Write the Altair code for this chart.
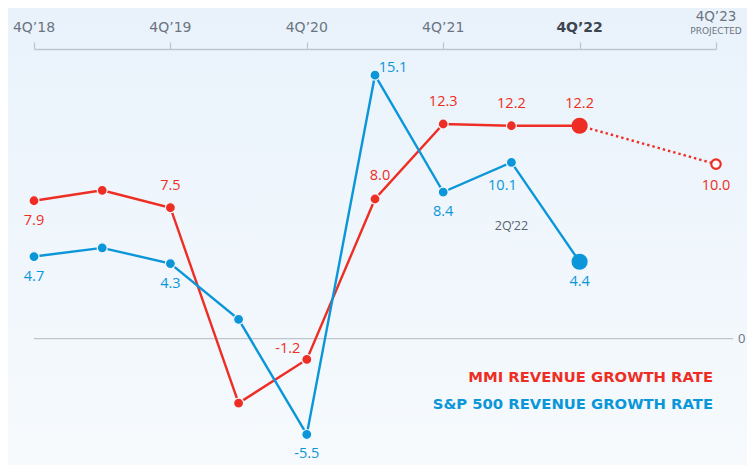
import altair as alt
import pandas as pd

# ---- data ----
periods = ["4Q’18", "2Q’19", "4Q’19", "2Q’20", "4Q’20", "2Q’21",
           "4Q’21", "2Q’22", "4Q’22", "2Q’23", "4Q’23"]
mmi = [7.9, 8.5, 7.5, -3.7, -1.2, 8.0, 12.3, 12.2, 12.2]
mmi_labels = ["7.9", "", "7.5", "", "-1.2", "8.0", "12.3", "12.2", "12.2"]
mmi_place = ["below", "", "above", "", "left", "aboveright", "above", "above", "above"]
mmi_proj = [12.2, 10.0]          # 4Q'22 -> 4Q'23 projected
mmi_proj_label = "10.0"
sp500 = [4.7, 5.2, 4.3, 1.1, -5.5, 15.1, 8.4, 10.1, 4.4]
sp_labels = ["4.7", "", "4.3", "", "-5.5", "15.1", "8.4", "10.1", "4.4"]
sp_place = ["below", "", "below", "", "below", "right", "below", "belowleft", "below"]
axis_ticks = ["4Q’18", "4Q’19", "4Q’20", "4Q’21", "4Q’22"]
projected_tick = "4Q’23"
projected_word = "PROJECTED"
note = "2Q’22"
legend_mmi = "MMI REVENUE GROWTH RATE"
legend_sp = "S&P 500 REVENUE GROWTH RATE"

RED = "#ee2e24"
BLUE = "#0a96d8"
GRAY = "#6b7480"
LINEGRAY = "#bfc5cd"
FONT = "Open Sans"
WIDE = "DejaVu Sans"

W, H = 682, 416
PAD_L, PAD_T, PAD_R, PAD_B = 26, 41, 31, 0

idx = {p: i for i, p in enumerate(periods)}

mmi_df = pd.DataFrame({"t": list(range(len(mmi))), "v": mmi,
                       "lab": mmi_labels, "place": mmi_place})
sp_df = pd.DataFrame({"t": list(range(len(sp500))), "v": sp500,
                      "lab": sp_labels, "place": sp_place})
proj_df = pd.DataFrame({"t": [idx["4Q’22"], idx["4Q’23"]], "v": mmi_proj,
                        "lab": ["", mmi_proj_label]})
tick_df = pd.DataFrame({"t": [idx[p] for p in axis_ticks], "lab": axis_ticks,
                        "bold": [p == "4Q’22" for p in axis_ticks]})
proj_tick_df = pd.DataFrame({"t": [idx["4Q’23"]], "lab": [projected_tick],
                             "sub": [projected_word]})
note_df = pd.DataFrame({"t": [idx["2Q’22"]], "lab": [note]})
zero_df = pd.DataFrame({"v": [0], "lab": ["0"]})
one = pd.DataFrame({"a": [0]})

xscale = alt.Scale(domain=[0, 10], nice=False, zero=False)
yscale = alt.Scale(domain=[-7.25, 16.6], nice=False, zero=False)
X = alt.X("t:Q", scale=xscale,
          axis=alt.Axis(orient="top", values=[0, 2, 4, 6, 8, 10], labels=False,
                        tickSize=7, tickColor=LINEGRAY, domainColor=LINEGRAY,
                        tickWidth=1.3, domainWidth=1.3, grid=False, title=None,
                        zindex=1))
Y = alt.Y("v:Q", scale=yscale, axis=None)

bg = alt.Chart(one).mark_rect(
    color=alt.Gradient(gradient="linear",
                       stops=[alt.GradientStop(color="#e9f2fb", offset=0),
                              alt.GradientStop(color="#f6fafd", offset=1)],
                       x1=0, x2=0, y1=0, y2=1)
).encode(x=alt.value(-PAD_L), x2=alt.value(W + PAD_R),
         y=alt.value(-PAD_T), y2=alt.value(H + PAD_B))

zero_rule = alt.Chart(zero_df).mark_rule(color=LINEGRAY, strokeWidth=1.2).encode(
    y=Y, x=alt.value(0), x2=alt.value(699))
zero_lab = alt.Chart(zero_df).mark_text(color=GRAY, font=FONT, fontSize=13,
                                        align="left", baseline="middle").encode(
    y=Y, x=alt.value(704), text="lab:N")

red_line = alt.Chart(mmi_df).mark_line(color=RED, strokeWidth=2.4).encode(x=X, y=Y)
blue_line = alt.Chart(sp_df).mark_line(color=BLUE, strokeWidth=2.4).encode(x=X, y=Y)
proj_line = alt.Chart(proj_df).mark_line(color=RED, strokeWidth=2.4,
                                         strokeDash=[2.4, 3]).encode(x=X, y=Y)

last = idx["4Q’22"]
red_pts = alt.Chart(mmi_df).transform_filter(f"datum.t < {last}").mark_point(
    filled=True, color=RED, size=100, opacity=1, stroke="#f2f8fd", strokeWidth=1.2
).encode(x=X, y=Y)
blue_pts = alt.Chart(sp_df).transform_filter(f"datum.t < {last}").mark_point(
    filled=True, color=BLUE, size=100, opacity=1, stroke="#f2f8fd", strokeWidth=1.2
).encode(x=X, y=Y)
red_big = alt.Chart(mmi_df).transform_filter(f"datum.t == {last}").mark_point(
    filled=True, color=RED, size=260, opacity=1).encode(x=X, y=Y)
blue_big = alt.Chart(sp_df).transform_filter(f"datum.t == {last}").mark_point(
    filled=True, color=BLUE, size=260, opacity=1).encode(x=X, y=Y)
proj_pt = alt.Chart(proj_df).transform_filter(f"datum.t == {idx['4Q’23']}").mark_point(
    filled=True, fill="#ffffff", stroke=RED, strokeWidth=2.2, size=90, opacity=1
).encode(x=X, y=Y)

offsets = {"below": (0, 20), "above": (0, -22), "left": (-19, -10),
           "aboveright": (5, -23), "right": (18, -7), "belowleft": (-9, 24)}


def labels(df, color):
    layers = []
    for place, (dx, dy) in offsets.items():
        layers.append(
            alt.Chart(df).transform_filter(f"datum.place == '{place}'").mark_text(
                color=color, font=FONT, fontSize=14.5, dx=dx, dy=dy,
                baseline="middle", align="center"
            ).encode(x=X, y=Y, text="lab:N"))
    return layers


proj_lab = alt.Chart(proj_df).transform_filter(f"datum.t == {idx['4Q’23']}").mark_text(
    color=RED, font=FONT, fontSize=14.5, dy=22, baseline="middle").encode(
    x=X, y=Y, text="lab:N")

note_txt = alt.Chart(note_df).mark_text(color="#5a636e", font=FONT, fontSize=12.5,
                                        baseline="middle").encode(
    x=X, y=alt.value(177), text="lab:N")

tick_norm = alt.Chart(tick_df).transform_filter("!datum.bold").mark_text(
    color=GRAY, font=WIDE, fontSize=14, baseline="middle").encode(
    x=X, y=alt.value(-21), text="lab:N")
tick_bold = alt.Chart(tick_df).transform_filter("datum.bold").mark_text(
    color="#3c4450", font=WIDE, fontSize=14, fontWeight="bold", baseline="middle").encode(
    x=X, y=alt.value(-21), text="lab:N")
proj_tick = alt.Chart(proj_tick_df).mark_text(color=GRAY, font=WIDE, fontSize=13.5,
                                              baseline="middle").encode(
    x=X, y=alt.value(-32.5), text="lab:N")
proj_word = alt.Chart(proj_tick_df).mark_text(color=GRAY, font=WIDE, fontSize=9,
                                              baseline="middle").encode(
    x=X, y=alt.value(-18.5), text="sub:N")

leg1 = alt.Chart(one).mark_text(color=RED, font=WIDE, fontSize=14.8, fontWeight="bold",
                                align="right", baseline="middle").encode(
    x=alt.value(679), y=alt.value(329), text=alt.value(legend_mmi))
leg2 = alt.Chart(one).mark_text(color=BLUE, font=WIDE, fontSize=14.8, fontWeight="bold",
                                align="right", baseline="middle").encode(
    x=alt.value(679), y=alt.value(356), text=alt.value(legend_sp))

chart = alt.layer(
    bg, zero_rule, zero_lab, proj_line, red_line, blue_line,
    red_pts, blue_pts, red_big, blue_big, proj_pt,
    *labels(mmi_df, RED), *labels(sp_df, BLUE), proj_lab, note_txt,
    tick_norm, tick_bold, proj_tick, proj_word, leg1, leg2
).properties(
    width=W, height=H,
    autosize=alt.AutoSizeParams(type="none"),
    padding={"left": PAD_L, "top": PAD_T, "right": PAD_R, "bottom": PAD_B},
    background="#eff6fc"
).configure_view(stroke=None)

chart.save("out.html", embed_options={"renderer": "svg", "actions": False})
